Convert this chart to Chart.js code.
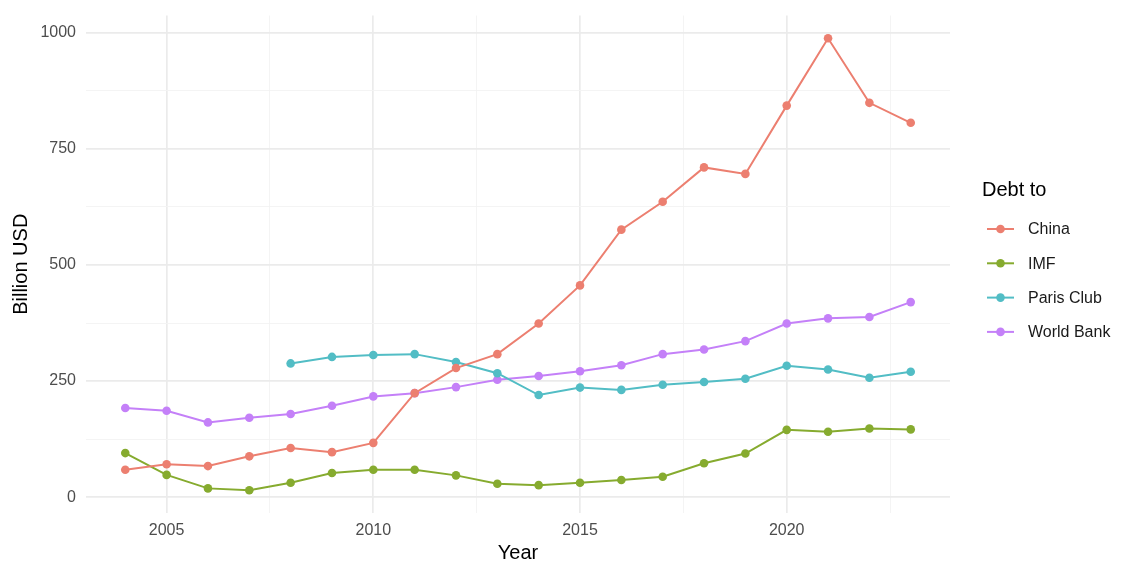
<!DOCTYPE html>
<html>
<head>
<meta charset="utf-8">
<script src="https://cdn.jsdelivr.net/npm/chart.js@4.4.1/dist/chart.umd.min.js"></script>
<style>
  html, body { margin: 0; padding: 0; background: #ffffff; }
  #wrap { width: 1129px; height: 574px; }
</style>
</head>
<body>
<div id="wrap"><canvas id="debtChart" width="1129" height="574"></canvas></div>
<script>
// Data (billion USD)
const years = [2004, 2005, 2006, 2007, 2008, 2009, 2010, 2011, 2012, 2013,
               2014, 2015, 2016, 2017, 2018, 2019, 2020, 2021, 2022, 2023];
const china = [59, 71, 67, 88, 106, 97, 117, 224, 278, 308,
               374, 456, 576, 636, 710, 696, 843, 988, 849, 806];
const imf = [95, 48, 19, 15, 31, 52, 59, 59, 47, 29,
             26, 31, 37, 44, 73, 94, 145, 141, 148, 146];
const parisClub = [null, null, null, null, 288, 302, 306, 308, 291, 267,
                   220, 236, 231, 242, 248, 255, 283, 275, 257, 270];
const worldBank = [192, 186, 161, 171, 179, 197, 217, 224, 237, 253,
                   261, 271, 284, 308, 318, 336, 374, 385, 388, 420];

const seriesNames = ['China', 'IMF', 'Paris Club', 'World Bank'];
const seriesColors = ['#EC7F70', '#86AB2F', '#52BDC5', '#C480F8'];

// axis breaks
const xMajor = [2005, 2010, 2015, 2020];
const xMinor = [2007.5, 2012.5, 2017.5, 2022.5];
const yMajor = [0, 250, 500, 750, 1000];
const yMinor = [125, 375, 625, 875];

const FONT = "'Liberation Sans', Arial, Helvetica, sans-serif";

function toPoints(values) {
    return years.map((yr, i) => ({ x: yr, y: values[i] }));
}

const allSeries = [china, imf, parisClub, worldBank];
const datasets = allSeries.map((vals, i) => ({
    label: seriesNames[i],
    data: toPoints(vals),
    borderColor: seriesColors[i],
    backgroundColor: seriesColors[i],
    borderWidth: 2,
    pointRadius: 4.3,
    pointHoverRadius: 4.3,
    pointBorderWidth: 0,
    spanGaps: false,
    tension: 0
}));

function gridColor(major) {
    return ctx => major.includes(ctx.tick && ctx.tick.value) ? '#ebebeb' : '#f3f3f3';
}
function gridWidth(major) {
    return ctx => major.includes(ctx.tick && ctx.tick.value) ? 1.7 : 0.9;
}

// legend in ggplot style: line + dot keys
const ggLegend = {
    id: 'ggLegend',
    afterDraw(chart) {
        const c = chart.ctx;
        c.save();
        c.fillStyle = '#000000';
        c.font = '20px ' + FONT;
        c.textBaseline = 'middle';
        c.textAlign = 'left';
        c.fillText('Debt to', 982, 190);
        c.font = '16px ' + FONT;
        chart.data.datasets.forEach((ds, i) => {
            const y = 229 + i * 34.3;
            c.strokeStyle = ds.borderColor;
            c.lineWidth = 2;
            c.beginPath();
            c.moveTo(987, y);
            c.lineTo(1014, y);
            c.stroke();
            c.fillStyle = ds.borderColor;
            c.beginPath();
            c.arc(1000.5, y, 4.3, 0, Math.PI * 2);
            c.fill();
            c.fillStyle = '#1a1a1a';
            c.fillText(ds.label, 1028, y + 1);
        });
        c.restore();
    }
};

const ctx = document.getElementById('debtChart').getContext('2d');
const chart = new Chart(ctx, {
    type: 'line',
    data: { datasets: datasets },
    plugins: [ggLegend],
    options: {
        responsive: false,
        animation: false,
        layout: { padding: { top: 15.5, right: 179, bottom: 0, left: 0 } },
        plugins: {
            legend: { display: false },
            tooltip: { enabled: false }
        },
        scales: {
            x: {
                type: 'linear',
                min: 2003.05,
                max: 2023.95,
                afterBuildTicks: scale => {
                    scale.ticks = xMajor.concat(xMinor).sort((a, b) => a - b).map(v => ({ value: v }));
                },
                afterFit: scale => {
                    scale.height = 61;
                    scale.paddingLeft = 0;
                    scale.paddingRight = 0;
                },
                border: { display: false },
                grid: { color: gridColor(xMajor), lineWidth: gridWidth(xMajor), drawTicks: false },
                ticks: {
                    autoSkip: false,
                    maxRotation: 0,
                    padding: 8,
                    color: '#4d4d4d',
                    font: { family: FONT, size: 16 },
                    callback: v => xMajor.includes(v) ? String(v) : ''
                },
                title: {
                    display: true,
                    text: 'Year',
                    color: '#000000',
                    font: { family: FONT, size: 20 },
                    padding: { top: 0, bottom: 9 }
                }
            },
            y: {
                type: 'linear',
                min: -34,
                max: 1037,
                afterBuildTicks: scale => {
                    scale.ticks = yMajor.concat(yMinor).sort((a, b) => a - b).map(v => ({ value: v }));
                },
                afterFit: scale => {
                    scale.width = 86;
                    scale.paddingTop = 0;
                    scale.paddingBottom = 0;
                },
                border: { display: false },
                grid: { color: gridColor(yMajor), lineWidth: gridWidth(yMajor), drawTicks: false },
                ticks: {
                    autoSkip: false,
                    padding: 10,
                    color: '#4d4d4d',
                    font: { family: FONT, size: 16 },
                    callback: v => yMajor.includes(v) ? String(v) : ''
                },
                title: {
                    display: true,
                    text: 'Billion USD',
                    color: '#000000',
                    font: { family: FONT, size: 20 },
                    padding: { top: 9, bottom: 0 }
                }
            }
        }
    }
});
</script>
</body>
</html>
